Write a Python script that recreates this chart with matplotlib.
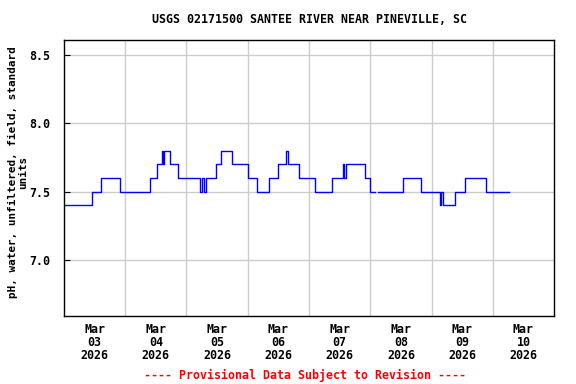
import matplotlib
matplotlib.use('Agg')
import matplotlib.pyplot as plt
import numpy as np
import pandas as pd

titulo = 'USGS 02171500 SANTEE RIVER NEAR PINEVILLE, SC'
etiqueta_y = 'pH, water, unfiltered, field, standard\nunits'
pie = '---- Provisional Data Subject to Revision ----'

# step changes of the pH record (time, value); nan = gap in record
tiempos = ['2026-03-03 00:00', '2026-03-03 11:00', '2026-03-03 14:30', '2026-03-03 22:00',
           '2026-03-04 09:45', '2026-03-04 12:30', '2026-03-04 14:30', '2026-03-04 14:45',
           '2026-03-04 15:00', '2026-03-04 17:30', '2026-03-04 20:45', '2026-03-05 05:15',
           '2026-03-05 06:00', '2026-03-05 06:45', '2026-03-05 07:30', '2026-03-05 11:30',
           '2026-03-05 13:30', '2026-03-05 18:00', '2026-03-06 00:00', '2026-03-06 03:30',
           '2026-03-06 08:15', '2026-03-06 11:45', '2026-03-06 15:00', '2026-03-06 15:45',
           '2026-03-06 20:00', '2026-03-07 02:30', '2026-03-07 09:00', '2026-03-07 13:15',
           '2026-03-07 13:45', '2026-03-07 14:30', '2026-03-07 21:45', '2026-03-08 00:00',
           '2026-03-08 02:00', '2026-03-08 03:00', '2026-03-08 12:45', '2026-03-08 19:45',
           '2026-03-09 03:15', '2026-03-09 03:45', '2026-03-09 04:30', '2026-03-09 09:15',
           '2026-03-09 13:15', '2026-03-09 21:15', '2026-03-10 06:15']
valores = [7.4, 7.5, 7.6, 7.5,
           7.6, 7.7, 7.8, 7.7,
           7.8, 7.7, 7.6, 7.5,
           7.6, 7.5, 7.6, 7.7,
           7.8, 7.7, 7.6, 7.5,
           7.6, 7.7, 7.8, 7.7,
           7.6, 7.5, 7.6, 7.7,
           7.6, 7.7, 7.6, 7.5,
           np.nan, 7.5, 7.6, 7.5,
           7.4, 7.5, 7.4, 7.5,
           7.6, 7.5, 7.5]

dias = ['2026-03-03', '2026-03-04', '2026-03-05', '2026-03-06',
        '2026-03-07', '2026-03-08', '2026-03-09', '2026-03-10', '2026-03-11']
etiquetas_x = ['Mar\n03\n2026', 'Mar\n04\n2026', 'Mar\n05\n2026', 'Mar\n06\n2026',
               'Mar\n07\n2026', 'Mar\n08\n2026', 'Mar\n09\n2026', 'Mar\n10\n2026']
ticks_y = [7.0, 7.5, 8.0, 8.5]

fuente = {'family': 'DejaVu Sans Mono', 'weight': 'bold', 'size': 8.4}

t = pd.to_datetime(tiempos)
d = pd.to_datetime(dias)

fig = plt.figure(figsize=(5.76, 3.84), dpi=100)
ax = fig.add_axes([0.111, 0.177, 0.851, 0.719])

ax.plot(t, valores, color='#0000ff', linewidth=1, drawstyle='steps-post')

ax.set_xlim(d[0], d[-1])
ax.set_ylim(6.59, 8.61)

# day boundaries as gridlines, labels at noon
ax.set_xticks(d[1:-1])
ax.set_xticklabels([])
mediodia = d[:-1] + pd.Timedelta(hours=12)
ax.set_xticks(mediodia, minor=True)
ax.set_xticklabels(etiquetas_x, minor=True, fontdict=fuente, linespacing=1.0)
ax.tick_params(axis='x', which='major', direction='in', length=0)
ax.tick_params(axis='x', which='minor', length=0, pad=5)

ax.set_yticks(ticks_y)
ax.set_yticklabels(['%.1f' % v for v in ticks_y], fontdict=fuente)
ax.tick_params(axis='y', direction='in', length=4, pad=10)

ax.grid(True, color='#cccccc', linewidth=1)
ax.set_axisbelow(True)
for s in ax.spines.values():
    s.set_linewidth(1)
    s.set_color('black')

fig.text(18 / 576, 1 - 172 / 384, etiqueta_y, rotation=90, ha='center', va='center',
         multialignment='center', linespacing=1.0,
         family='DejaVu Sans Mono', weight='bold', size=7.9)
fig.text(0.538, 0.95, titulo, ha='center', va='center', **fuente)
fig.text(0.53, 0.022, pie, ha='center', va='center', color='red', **fuente)

fig.savefig('out.png', dpi=100)
